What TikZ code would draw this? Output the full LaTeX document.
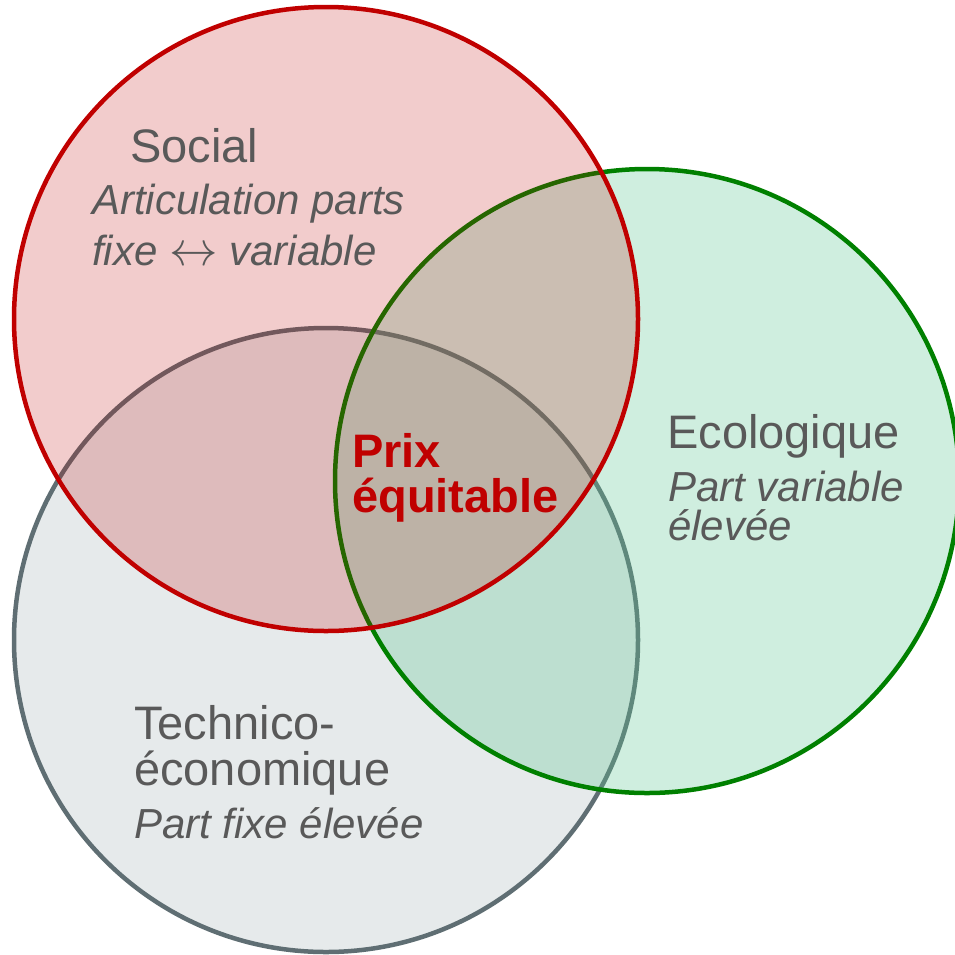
\documentclass[tikz,border=0pt]{standalone}
\usepackage{graphicx}
\usepackage{fontspec}
\setmainfont{Liberation Sans}
\definecolor{redline}{HTML}{C00000}
\definecolor{greenline}{HTML}{008000}
\definecolor{grayline}{HTML}{5F6E73}
\definecolor{grayfill}{HTML}{E6EAEB}
\definecolor{greenfill}{RGB}{95,198,148}
\definecolor{txt}{HTML}{595959}
\begin{document}
\begin{tikzpicture}[x=1pt,y=-1pt,
  venn/.style={circle, minimum size=624pt, inner sep=0pt, outer sep=0pt, line width=4.5pt},
  head/.style={anchor=base west, inner sep=0pt, text=txt, font=\fontsize{47}{54}\selectfont},
  sub/.style={anchor=base west, inner sep=0pt, text=txt, font=\fontsize{42}{48}\selectfont\itshape},
  center/.style={anchor=base west, inner sep=0pt, text=redline, font=\fontsize{47}{54}\selectfont\bfseries}]
\useasboundingbox (0,0) rectangle (955,954);
\clip (0,0) rectangle (955,954);
\node[venn, draw=grayline, fill=grayfill] (tech) at (326,640) {};
\node[venn, draw=greenline, fill=greenfill, fill opacity=0.3] (eco) at (647,481) {};
\node[venn, draw=redline, fill=redline, fill opacity=0.2] (soc) at (326,319) {};
\node[head] (socT) at (130,162) {Social};
\node[sub] (socA) at (92,214) {Articulation parts};
\node[sub] (socB) at (92,265) {fixe \smash{\scalebox{1.95}{$\leftrightarrow$}} variable};
\node[head] (ecoT) at (667,448) {Ecologique};
\node[sub] (ecoA) at (668,501) {Part variable};
\node[sub] (ecoB) at (668,540) {élevée};
\node[head] (techT) at (134,739) {Technico-};
\node[head] (techB) at (134,785) {économique};
\node[sub] (techC) at (134,838) {Part fixe élevée};
\node[center] (prixA) at (352,467) {Prix};
\node[center] (prixB) at (352,512) {équitable};
\end{tikzpicture}
\end{document}
